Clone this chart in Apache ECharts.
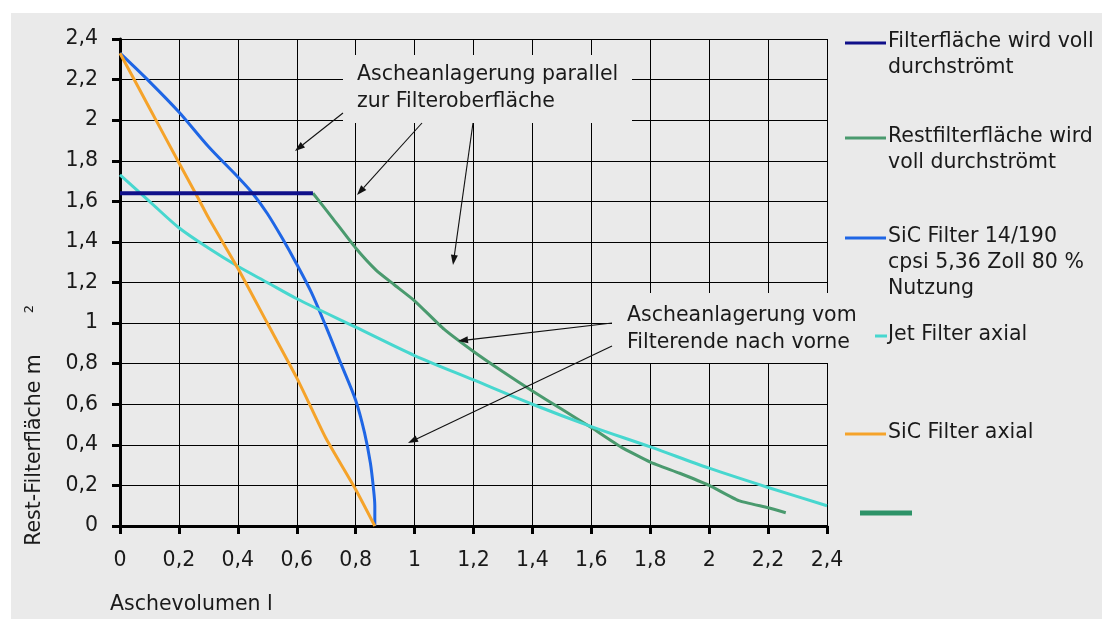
<!DOCTYPE html>
<html>
<head>
<meta charset="utf-8">
<script src="https://cdn.jsdelivr.net/npm/echarts@6/dist/echarts.min.js"></script>
<style>
  html, body { margin: 0; padding: 0; background: #ffffff; }
  #chart { width: 1102px; height: 619px; }
</style>
</head>
<body>
<div id="chart"></div>
<script>
// Tick labels (German decimal comma)
const xTickLabels = ['0', '0,2', '0,4', '0,6', '0,8', '1', '1,2', '1,4', '1,6', '1,8', '2', '2,2', '2,4'];
const yTickLabels = ['0', '0,2', '0,4', '0,6', '0,8', '1', '1,2', '1,4', '1,6', '1,8', '2', '2,2', '2,4'];

// Series: [Aschevolumen l, Rest-Filterfläche m²]
const seriesNames = [
  'Filterfläche wird voll durchströmt',
  'Restfilterfläche wird voll durchströmt',
  'SiC Filter 14/190 cpsi 5,36 Zoll 80 % Nutzung',
  'Jet Filter axial',
  'SiC Filter axial'
];
const filterVoll = [[0, 1.64], [0.655, 1.64]];
const restFilterVoll = [
  [0.655, 1.64], [0.72, 1.52], [0.80, 1.37], [0.87, 1.26], [0.93, 1.19], [1.0, 1.11],
  [1.1, 0.97], [1.2, 0.86], [1.3, 0.76], [1.4, 0.665], [1.5, 0.575], [1.6, 0.485],
  [1.7, 0.39], [1.8, 0.315], [1.9, 0.26], [2.0, 0.2], [2.1, 0.125], [2.2, 0.09], [2.26, 0.065]
];
const sicFilter14 = [
  [0, 2.33], [0.1, 2.19], [0.2, 2.04], [0.3, 1.87], [0.4, 1.72], [0.45, 1.64], [0.5, 1.54],
  [0.55, 1.42], [0.6, 1.29], [0.65, 1.15], [0.7, 0.98], [0.75, 0.80], [0.8, 0.62],
  [0.83, 0.46], [0.85, 0.31], [0.86, 0.19], [0.865, 0.1], [0.865, 0]
];
const jetFilterAxial = [
  [0, 1.73], [0.1, 1.60], [0.2, 1.47], [0.3, 1.37], [0.4, 1.28], [0.5, 1.2], [0.6, 1.12],
  [0.8, 0.98], [1.0, 0.84], [1.2, 0.72], [1.4, 0.60], [1.6, 0.49], [1.8, 0.39],
  [2.0, 0.285], [2.2, 0.19], [2.4, 0.10]
];
const sicFilterAxial = [
  [0, 2.33], [0.1, 2.06], [0.2, 1.79], [0.26, 1.63], [0.3, 1.52], [0.4, 1.27], [0.5, 1.0],
  [0.6, 0.73], [0.65, 0.58], [0.7, 0.43], [0.8, 0.18], [0.865, 0]
];

const colors = ['#10108a', '#4a9a6e', '#1f66e5', '#47d7cf', '#f5a32a'];
const FONT = '"DejaVu Sans", sans-serif';
const FS = 20.5;
const TXT = '#1a1a1a';
const BG = '#eaeaea';

function tickLabel(labels) {
  return function (v) { return labels[Math.round(v / 0.2)] || ''; };
}

// Arrow: thin line with a filled triangular head at the tip
function arrow(x1, y1, x2, y2) {
  const dx = x2 - x1, dy = y2 - y1;
  const len = Math.sqrt(dx * dx + dy * dy);
  const ux = dx / len, uy = dy / len;
  const hl = 10, hw = 3.5;
  const bx = x2 - ux * hl, by = y2 - uy * hl;
  return [
    { type: 'line', z: 20, shape: { x1: x1, y1: y1, x2: bx, y2: by }, style: { stroke: '#111', lineWidth: 1.1 } },
    { type: 'polygon', z: 20, shape: { points: [[x2, y2], [bx - uy * hw, by + ux * hw], [bx + uy * hw, by - ux * hw]] }, style: { fill: '#111' } }
  ];
}

function textEl(x, y, text, valign, lh) {
  return {
    type: 'text', z: 20, x: x, y: y,
    style: { text: text, font: FS + 'px ' + FONT, fill: TXT, textAlign: 'left', textVerticalAlign: valign || 'middle', lineHeight: lh || 26 }
  };
}

function legendItem(x1, x2, y, color, text, width) {
  const els = [{ type: 'line', z: 20, shape: { x1: x1, y1: y, x2: x2, y2: y }, style: { stroke: color, lineWidth: width || 3 } }];
  if (text) {
    const lines = text.split('\n').length;
    els.push(textEl(888, y - 1 + (lines - 1) * 13, text));
  }
  return els;
}

const graphics = [
  // panel background
  { type: 'rect', z: -10, shape: { x: 11, y: 13, width: 1091, height: 606 }, style: { fill: BG } },
  // annotation text boxes
  { type: 'rect', z: 10, shape: { x: 343, y: 55, width: 289, height: 68 }, style: { fill: BG } },
  { type: 'rect', z: 10, shape: { x: 612, y: 293, width: 250, height: 70 }, style: { fill: BG } },
  textEl(357, 61, 'Ascheanlagerung parallel\nzur Filteroberfläche', 'top', 27),
  textEl(627, 302, 'Ascheanlagerung vom\nFilterende nach vorne', 'top', 27),
  // axis titles
  textEl(110, 605, 'Aschevolumen l'),
  { type: 'text', z: 20, x: 35, y: 450, rotation: Math.PI / 2,
    style: { text: 'Rest-Filterfläche m', font: FS + 'px ' + FONT, fill: TXT, textAlign: 'center', textVerticalAlign: 'middle' } },
  { type: 'text', z: 20, x: 30, y: 309, rotation: Math.PI / 2,
    style: { text: '2', font: '13px ' + FONT, fill: TXT, textAlign: 'center', textVerticalAlign: 'middle' } }
]
  .concat(arrow(343, 113, 295, 151))
  .concat(arrow(422, 123, 357, 195))
  .concat(arrow(473, 123, 453, 265))
  .concat(arrow(612, 323, 458, 341))
  .concat(arrow(612, 346, 408, 443))
  .concat(legendItem(845, 886, 43, colors[0], 'Filterfläche wird voll\ndurchströmt', 3))
  .concat(legendItem(845, 886, 138, colors[1], 'Restfilterfläche wird\nvoll durchströmt', 3))
  .concat(legendItem(845, 886, 238, colors[2], 'SiC Filter 14/190\ncpsi 5,36 Zoll 80 %\nNutzung', 3))
  .concat(legendItem(875, 887, 336, colors[3], 'Jet Filter axial', 3))
  .concat(legendItem(845, 886, 434, colors[4], 'SiC Filter axial', 3))
  .concat(legendItem(860, 912, 513, '#2e9368', '', 5));

const axisCommon = {
  type: 'value', min: 0, max: 2.4, interval: 0.2,
  axisLine: { show: true, onZero: false, lineStyle: { color: '#000', width: 3 } },
  axisTick: { show: true, inside: false, length: 8, lineStyle: { color: '#000', width: 3 } },
  splitLine: { show: true, lineStyle: { color: '#000', width: 1 } },
  axisLabel: { fontFamily: FONT, fontSize: FS, color: TXT }
};

const datasets = [filterVoll, restFilterVoll, sicFilter14, jetFilterAxial, sicFilterAxial];
const widths = [4, 3, 3, 3, 3];
const smooth = [false, 0.15, 0.3, 0.3, 0.2];

const chart = echarts.init(document.getElementById('chart'), null, { renderer: 'canvas' });
chart.setOption({
  backgroundColor: '#ffffff',
  animation: false,
  grid: { left: 120, top: 39, right: 275, bottom: 93, containLabel: false },
  xAxis: Object.assign({}, axisCommon, {
    axisLabel: Object.assign({}, axisCommon.axisLabel, { margin: 24, formatter: tickLabel(xTickLabels) })
  }),
  yAxis: Object.assign({}, axisCommon, {
    axisLabel: Object.assign({}, axisCommon.axisLabel, { margin: 22, formatter: tickLabel(yTickLabels) })
  }),
  series: datasets.map(function (d, i) {
    return {
      name: seriesNames[i], type: 'line', data: d, showSymbol: false, symbol: 'none',
      smooth: smooth[i], z: 3 + (i === 0 ? 1 : 0),
      lineStyle: { color: colors[i], width: widths[i] }
    };
  }),
  graphic: graphics
});
</script>
</body>
</html>
